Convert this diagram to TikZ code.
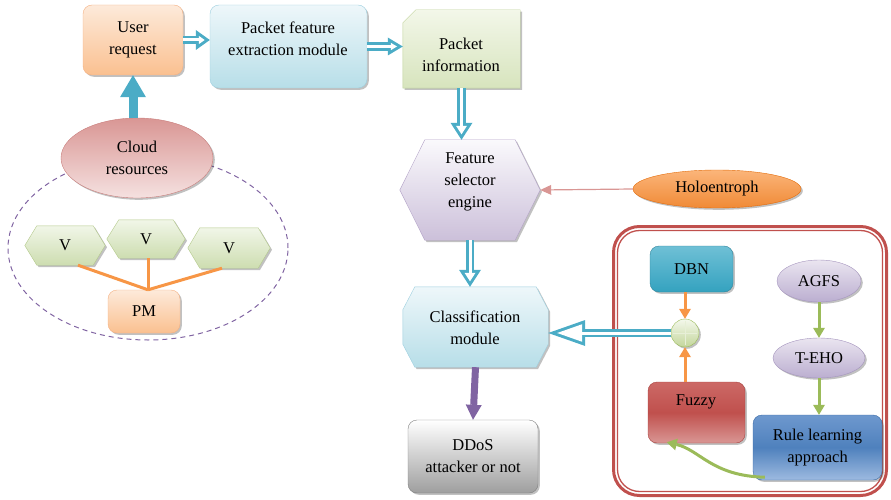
\documentclass[tikz,border=0pt]{standalone}
\usepackage{fontspec}
\setmainfont{Liberation Serif}
\usetikzlibrary{arrows.meta,shadows,calc,shapes.geometric}
\definecolor{arrteal}{HTML}{4BACC6}
\definecolor{userA}{HTML}{FDEADA}\definecolor{userB}{HTML}{FAC090}\definecolor{userD}{HTML}{F4B183}
\definecolor{pfeA}{HTML}{EEF7FA}\definecolor{pfeB}{HTML}{B7DEE8}\definecolor{pfeD}{HTML}{9DCFDF}
\definecolor{piA}{HTML}{F3F7E9}\definecolor{piB}{HTML}{D7E4BD}\definecolor{piD}{HTML}{BFD39A}
\definecolor{cloudA}{HTML}{D99694}\definecolor{cloudB}{HTML}{F5E1E0}\definecolor{cloudD}{HTML}{C97E7C}
\definecolor{vA}{HTML}{F1F6E8}\definecolor{vB}{HTML}{CDDDB0}\definecolor{vD}{HTML}{B3C98A}
\definecolor{fseA}{HTML}{FAF9FC}\definecolor{fseB}{HTML}{CCC0DA}\definecolor{fseD}{HTML}{B3A2C7}
\definecolor{holoA}{HTML}{FBB57A}\definecolor{holoB}{HTML}{F08A36}\definecolor{holoD}{HTML}{E46C0A}
\definecolor{ddB}{HTML}{9E9E9E}\definecolor{ddD}{HTML}{808080}
\definecolor{dbnA}{HTML}{6FC0D6}\definecolor{dbnB}{HTML}{34A2BF}\definecolor{dbnD}{HTML}{31859C}
\definecolor{agA}{HTML}{EAE5F0}\definecolor{agB}{HTML}{BBAED0}\definecolor{agD}{HTML}{A595BE}
\definecolor{fzA}{HTML}{CC6966}\definecolor{fzM}{HTML}{C0504D}\definecolor{fzB}{HTML}{D99694}\definecolor{fzD}{HTML}{A8423F}
\definecolor{rlA}{HTML}{6E98CE}\definecolor{rlM}{HTML}{4F81BD}\definecolor{rlB}{HTML}{9DBAE0}\definecolor{rlD}{HTML}{3A6AA6}
\definecolor{sumA}{HTML}{F4F8EC}\definecolor{sumB}{HTML}{C3D69B}\definecolor{sumD}{HTML}{9BBB59}
\definecolor{frameC}{HTML}{C0504D}
\definecolor{orangeL}{HTML}{F79646}
\definecolor{greenL}{HTML}{9BBB59}
\definecolor{purpleL}{HTML}{8064A2}
\definecolor{pinkL}{HTML}{D99694}
\begin{document}
\begin{tikzpicture}[x=1pt,y=-1pt,
  font=\fontsize{16.5}{22}\selectfont,
  shd/.style={drop shadow={shadow xshift=1.8pt,shadow yshift=-1.8pt,opacity=0.35,fill=black!70}},
  rbox/.style={shd,rounded corners=9pt,inner sep=0pt,align=center},
  holder/.style 2 args={inner sep=0pt,minimum width=#1,minimum height=#2},
  txt/.style={align=center,inner sep=0pt},
  hollow/.style n args={5}{draw=arrteal,line width=8.5pt,-{Triangle[length=#1,width=#2,line width=0pt]},
     postaction={draw=white,line width=3pt,shorten >=#3,-{Triangle[length=#4,width=#5,line width=0pt]}}},
  orarrow/.style={draw=orangeL,line width=3pt,-{Triangle[length=10pt,width=12pt,line width=0pt]}},
  grarrow/.style={draw=greenL,line width=3pt,-{Triangle[length=10pt,width=12pt,line width=0pt]}},
  lavell/.style={shd,ellipse,inner sep=0pt,top color=agA,bottom color=agB,draw=agD}
]
\useasboundingbox (0,0) rectangle (891,500);

% dashed cloud region
\draw[purpleL,line width=1pt,dash pattern=on 5pt off 4pt] (148,248) ellipse [x radius=140pt,y radius=92pt];

% outer red frame
\draw[frameC,line width=3pt,rounded corners=26pt] (613.5,226.5) rectangle (886.5,495.5);
\draw[frameC,line width=1.3pt,rounded corners=22pt] (617.5,230.5) rectangle (882.5,491.5);

% top row
\node[rbox,minimum width=100pt,minimum height=70pt,top color=userA,bottom color=userB,draw=userD] (user) at (133,40) {User\\request};
\node[rbox,minimum width=157pt,minimum height=83pt,top color=pfeA,bottom color=pfeB,draw=pfeD] (pfe) at (288.5,46.5) {};
\node[txt] (pfe-t) at (288,39) {Packet feature\\extraction module};
\node[holder={117pt}{78pt}] (pi) at (461.5,49) {};
\path[shd,top color=piA,bottom color=piB,draw=piD] ($(pi.north west)+(0,13)$) -- ($(pi.north west)+(13,0)$) -- (pi.north east) -- (pi.south east) -- (pi.south west) -- cycle;
\node[txt] (pi-t) at (461,55) {Packet\\information};

% cloud
\node[shd,ellipse,minimum width=152pt,minimum height=80pt,top color=cloudA,bottom color=cloudB,draw=cloudD,txt] (cloud) at (137,158) {Cloud\\resources};

% V hexagons
\foreach \n/\x/\y/\w/\h in {v1/65/245.5/80/39,v2/146/239/78/38,v3/229/248/82/40}{
  \node[holder={\w pt}{\h pt}] (\n) at (\x,\y) {};
  \path[shd,top color=vA,bottom color=vB,draw=vD] (\n.west) -- ($(\n.north west)+(12,0)$) -- ($(\n.north east)+(-12,0)$) -- (\n.east) -- ($(\n.south east)+(-12,0)$) -- ($(\n.south west)+(12,0)$) -- cycle;
  \node[txt] (\n-t) at (\n) {V};
}
\node[rbox,minimum width=72pt,minimum height=43pt,top color=userA,bottom color=userB,draw=userD] (pm) at (144,311.5) {PM};
\draw[orangeL,line width=3pt] ($(v1.south)+(13,0)$) -- ($(pm.north)+(4,0)$);
\draw[orangeL,line width=3pt] ($(v2.south)+(2,0)$) -- ($(pm.north)+(4,0)$);
\draw[orangeL,line width=3pt] ($(v3.south)+(-7,0)$) -- ($(pm.north)+(4,0)$);

% feature selector engine
\node[holder={140pt}{100pt}] (fse) at (470,190) {};
\path[shd,top color=fseA,bottom color=fseB,draw=fseD] (fse.west) -- ($(fse.north west)+(25,0)$) -- ($(fse.north east)+(-25,0)$) -- (fse.east) -- ($(fse.south east)+(-25,0)$) -- ($(fse.south west)+(25,0)$) -- cycle;
\node[txt] (fse-t) at (470,182) {Feature\\selector\\engine};

\node[shd,ellipse,minimum width=168pt,minimum height=38pt,inner sep=0pt,top color=holoA,bottom color=holoB,draw=holoD] (holo) at (717,189) {Holoentroph};

% classification module
\node[holder={145pt}{80pt}] (cls) at (475.5,327) {};
\path[shd,top color=pfeA,bottom color=pfeB,draw=pfeD] ($(cls.north west)+(12,0)$) -- ($(cls.north east)+(-12,0)$) -- ($(cls.north east)+(0,23)$) -- ($(cls.south east)+(0,-23)$) -- ($(cls.south east)+(-12,0)$) -- ($(cls.south west)+(12,0)$) -- ($(cls.south west)+(0,-23)$) -- ($(cls.north west)+(0,23)$) -- cycle;
\node[txt] (cls-t) at (475,328) {Classification\\module};

\node[rbox,minimum width=130pt,minimum height=73pt,top color=white,bottom color=ddB,draw=ddD] (dd) at (473,456.5) {DDoS\\attacker or not};

% inside frame
\node[rbox,minimum width=83pt,minimum height=46pt,top color=dbnA,bottom color=dbnB,draw=dbnD] (dbn) at (691.5,269) {DBN};
\node[lavell,minimum width=84pt,minimum height=42pt] (agfs) at (819,281) {AGFS};
\node[lavell,minimum width=92pt,minimum height=40pt] (teho) at (819,358) {T-EHO};
\node[shd,circle,minimum size=28pt,inner sep=0pt,top color=sumA,bottom color=sumB,draw=sumD] (sum) at (685,333) {};
\draw[white!60!sumB,line width=1pt] ($(sum.north)+(0,2)$) -- ($(sum.south)+(0,-2)$) ($(sum.west)+(2,0)$) -- ($(sum.east)+(-2,0)$);
\node[rbox,minimum width=97pt,minimum height=61pt,top color=fzA,bottom color=fzB,middle color=fzM,draw=fzD] (fuzzy) at (696.5,412.5) {};
\node[txt] (fuzzy-t) at (696,402) {Fuzzy};
\node[rbox,minimum width=129pt,minimum height=65pt,top color=rlA,bottom color=rlB,middle color=rlM,draw=rlD] (rule) at (817.5,447.5) {Rule learning\\approach};

% connectors
\draw[hollow={14pt}{20pt}{5.2pt}{5.8pt}{8.3pt}] (user.east) -- (user.east -| pfe.west);
\draw[hollow={15pt}{18pt}{5.8pt}{6.2pt}{7.4pt}] (pfe.east) -- (pfe.east -| pi.west);
\draw[hollow={17pt}{22pt}{5.5pt}{8.5pt}{11pt}] (pi.south) -- (pi.south |- fse.north);
\draw[hollow={17pt}{22pt}{5.5pt}{8.5pt}{11pt}] (fse.south) -- (fse.south |- cls.north);
\draw[hollow={37pt}{26pt}{9pt}{25pt}{17.6pt}] (sum.west) -- (sum.west -| cls.east);
\draw[arrteal,line width=9pt,-{Triangle[length=22pt,width=26pt,line width=0pt]}] (cloud.north -| user.south) -- (user.south);
\draw[purpleL,line width=7pt,-{Triangle[length=15pt,width=16pt,line width=0pt]}] (cls.south) -- (dd.north);
\draw[pinkL,line width=1.2pt,-{Triangle[length=11pt,width=10pt,line width=0pt]}] (holo.west) -- (fse.east);
\draw[orarrow] (dbn.south -| sum) -- (sum.north);
\draw[orarrow] (fuzzy.north -| sum) -- (sum.south);
\draw[grarrow] (agfs.south) -- (teho.north);
\draw[grarrow] (teho.south) -- (teho.south |- rule.north);
\draw[grarrow] ($(rule.south west)+(12,-3)$) .. controls (712,476) and (700,450) .. ($(fuzzy.south west)+(19,-1)$);
\end{tikzpicture}
\end{document}
